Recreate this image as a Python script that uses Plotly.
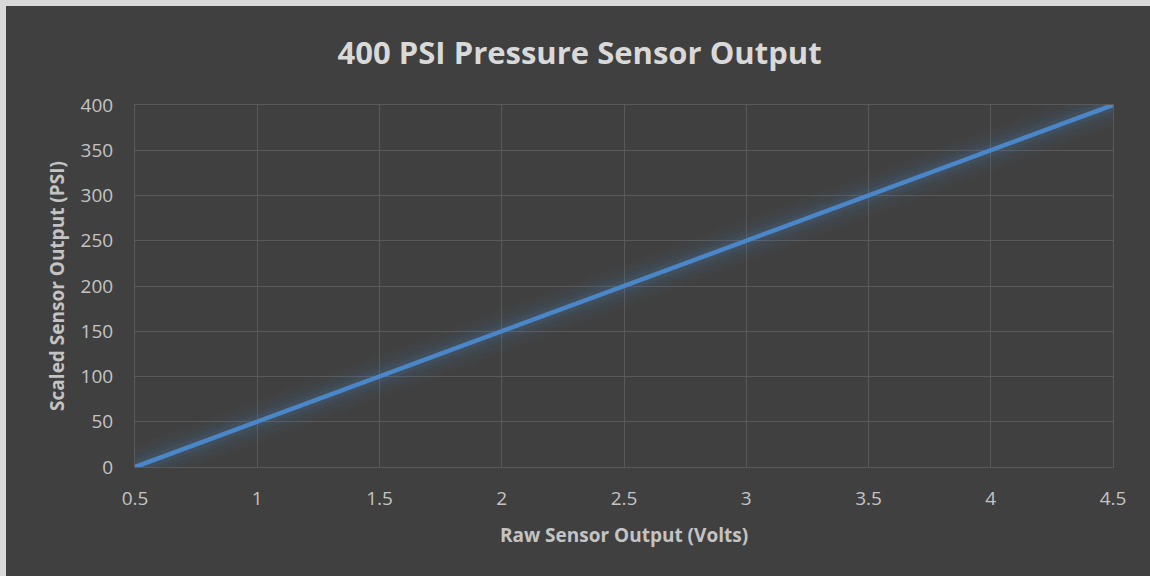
import plotly.graph_objects as go

volts = [0.5, 1.0, 1.5, 2.0, 2.5, 3.0, 3.5, 4.0, 4.5]
psi = [0, 50, 100, 150, 200, 250, 300, 350, 400]
x_ticks = [0.5, 1, 1.5, 2, 2.5, 3, 3.5, 4, 4.5]
y_ticks = [0, 50, 100, 150, 200, 250, 300, 350, 400]

BG = "#404040"
GRID = "#595959"
TXT = "#d9d9d9"
TICK = "#c4c4c4"
LINE = "#4a86c8"

fig = go.Figure()
# glow layers
for w, a in [(40, 0.035), (30, 0.05), (20, 0.07), (12, 0.10)]:
    fig.add_trace(go.Scatter(x=volts, y=psi, mode="lines",
                             line=dict(color=f"rgba(74,134,200,{a})", width=w),
                             hoverinfo="skip", showlegend=False))
fig.add_trace(go.Scatter(x=volts, y=psi, mode="lines",
                         line=dict(color=LINE, width=4.5), showlegend=False))

W, H = 1150, 576
L, R, T, B = 135, 37, 105, 109
pw, ph = W - L - R, H - T - B

def px(x):
    return (x - L) / pw

def py(y):
    return (H - B - y) / ph

fig.update_layout(
    width=W, height=H,
    margin=dict(l=L, r=R, t=T, b=B),
    paper_bgcolor=BG, plot_bgcolor=BG,
    font=dict(family="Open Sans, sans-serif", color=TICK, size=19),
    title=dict(text="<b>400 PSI Pressure Sensor Output</b>", x=0.504, xanchor="center",
               y=1 - 53 / H, yanchor="middle",
               font=dict(size=31, color=TXT)),
    xaxis=dict(range=[0.5, 4.5], tickvals=x_ticks, ticktext=[f"{v:g}" for v in x_ticks],
               showgrid=True, gridcolor=GRID, gridwidth=1, zeroline=False,
               showline=True, linecolor=GRID, linewidth=1, mirror=True,
               ticks="", ticklabelstandoff=14,
               tickfont=dict(size=19, color=TICK),
               title=dict(text="<b>Raw Sensor Output (Volts)</b>", standoff=18,
                          font=dict(size=19, color=TICK))),
    yaxis=dict(range=[0, 400], tickvals=y_ticks,
               showgrid=True, gridcolor=GRID, gridwidth=1, zeroline=False,
               showline=True, linecolor=GRID, linewidth=1, mirror=True,
               ticks="", ticklabelstandoff=17,
               tickfont=dict(size=19, color=TICK),
               title=dict(text="<b>Scaled Sensor Output (PSI)</b>", standoff=10,
                          font=dict(size=19, color=TICK))),
    shapes=[
        dict(type="rect", xref="paper", yref="paper", x0=px(0), x1=px(6), y0=py(H), y1=py(0),
             fillcolor="#d9d9d9", line=dict(width=0), layer="above"),
        dict(type="rect", xref="paper", yref="paper", x0=px(0), x1=px(W), y0=py(6), y1=py(0),
             fillcolor="#d9d9d9", line=dict(width=0), layer="above"),
    ],
)

fig.write_html("out.html", config={"displayModeBar": False},
               post_script="document.body.style.margin='0';document.body.style.overflow='hidden';")
